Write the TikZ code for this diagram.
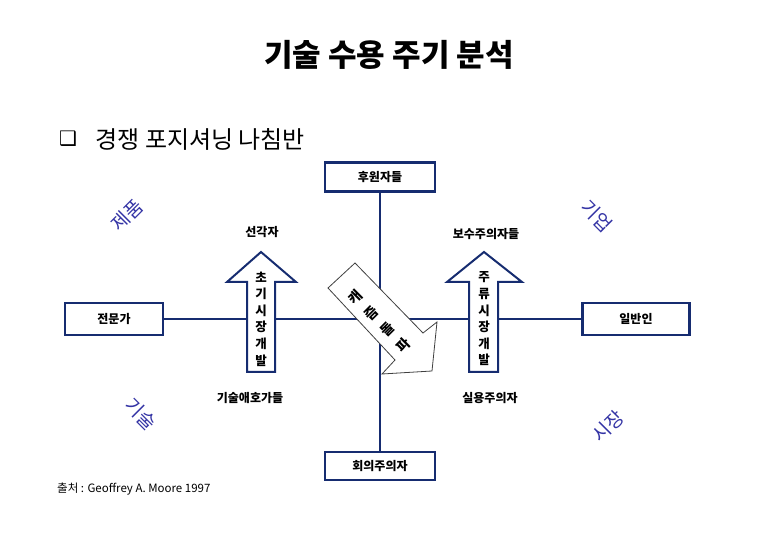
\documentclass[tikz,border=0pt]{standalone}
\usepackage{fontspec}
\usepackage{xcolor}
\usetikzlibrary{positioning}
\newfontfamily\kr{Noto Sans CJK KR}
\newfontfamily\dsym{DejaVu Sans}
\definecolor{navy}{RGB}{22,44,112}
\definecolor{inkblue}{RGB}{52,52,165}
\newcommand{\fs}[2]{\fontsize{#1}{#2}\selectfont}

\begin{document}
\begin{tikzpicture}[x=1pt, y=-1pt,
    box/.style={draw=navy, line width=2.6pt, fill=white,
                font=\kr\bfseries\fs{12}{14}, inner sep=0pt},
    axisline/.style={draw=navy, line width=2.6pt},
    uparr/.style={draw=navy, line width=2pt, fill=white, line join=miter},
    diagarr/.style={draw=black!75, line width=0.8pt, fill=white, line join=miter},
    vtext/.style={font=\kr\bfseries\fs{12.5}{16.6}, align=center, inner sep=0pt},
    quad/.style={font=\kr\bfseries\fs{12}{14}, inner sep=0pt},
    corner/.style={font=\kr\fs{19}{21}, text=inkblue, inner sep=0pt}]
  \path[use as bounding box] (0,0) rectangle (780,540);
  % title and heading
  \node[font=\kr\bfseries\fs{31}{36}] (title) at (389,55) {기술 수용 주기 분석};
  \node[font=\dsym\fs{20}{22}] (bullet) at (68,139) {❑};
  \node[font=\kr\fs{24}{26}, anchor=west] (head) at (92,139) {경쟁 포지셔닝 나침반};
  % compass boxes
  \node[box, minimum width=110, minimum height=29] (sup) at (380,177) {후원자들};
  \node[box, minimum width=110, minimum height=28] (skp) at (380,466) {회의주의자};
  \node[box, minimum width=98, minimum height=32] (exp) at (114,319) {전문가};
  \node[box, minimum width=107, minimum height=32] (pub) at (636,319) {일반인};
  \draw[axisline] (sup) -- (skp);
  \draw[axisline] (exp) -- (pub);
  % market arrows
  \draw[uparr] (261,252) -- (296,282) -- (275,282) -- (275,372) -- (247,372)
    -- (247,282) -- (227,282) -- cycle;
  \draw[uparr] (484,252) -- (522,282) -- (498,282) -- (498,372) -- (469,372)
    -- (469,282) -- (447,282) -- cycle;
  \draw[diagarr] (328,288) -- (355,263) -- (423,333) -- (437,322) -- (432,371)
    -- (382,374) -- (395,360) -- cycle;
  \node[vtext] (early) at (261,319) {초\\기\\시\\장\\개\\발};
  \node[vtext] (main) at (484,319) {주\\류\\시\\장\\개\\발};
  \node[vtext, font=\kr\bfseries\fs{14}{22.6}, rotate=45] (chasm) at (379,321) {캐\\즘\\돌\\파};
  % quadrants
  \node[quad] (vis) at (262,232) {선각자};
  \node[quad] (cons) at (486,234) {보수주의자들};
  \node[quad] (ent) at (250,398) {기술애호가들};
  \node[quad] (prag) at (490,398) {실용주의자};
  % corner labels
  \node[corner, rotate=45] (prod) at (127,215) {제품};
  \node[corner, rotate=-45] (firm) at (597,216) {기업};
  \node[corner, rotate=-45] (tech) at (141,414) {기술};
  \node[corner, rotate=45] (mkt) at (608,426) {시장};
  % source
  \node[font=\kr\fs{11.5}{13}, anchor=west, inner sep=0pt] (src) at (57,489) {출처 : Geoffrey A. Moore 1997};
\end{tikzpicture}
\end{document}
